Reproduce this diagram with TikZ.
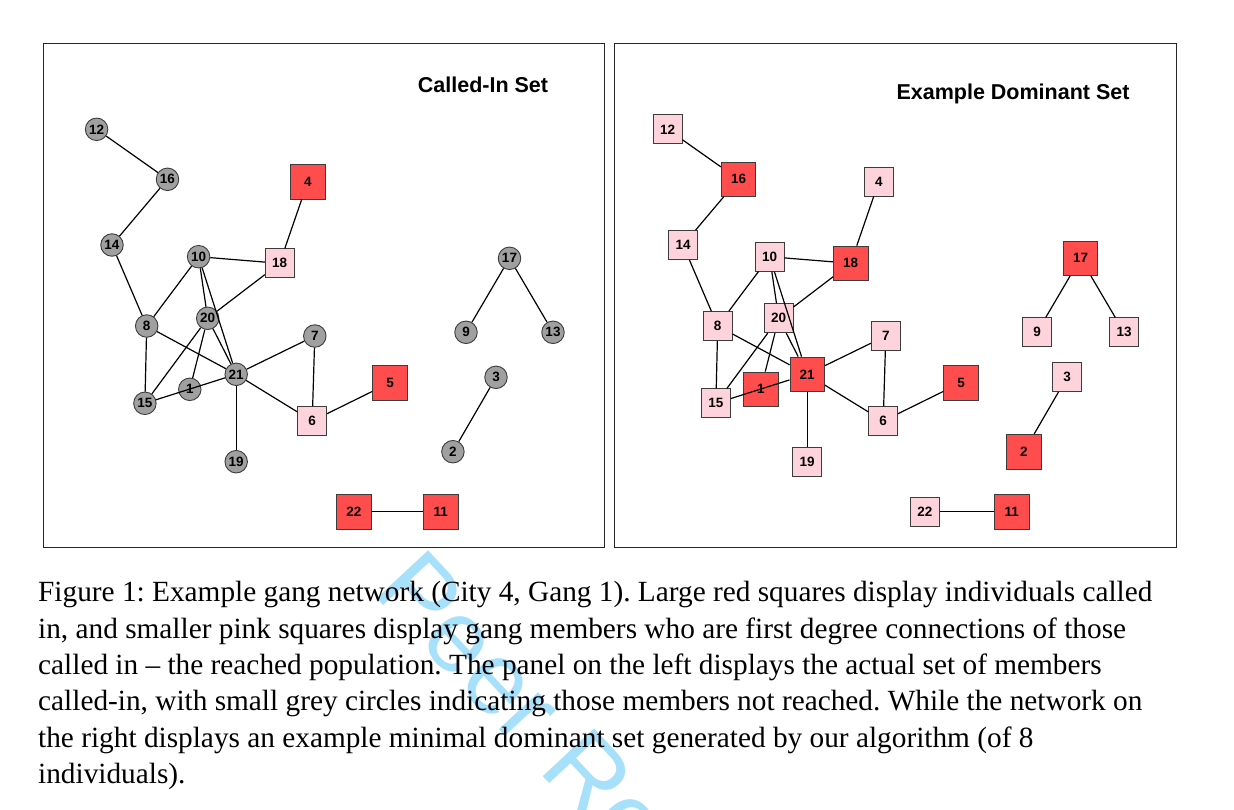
\documentclass[tikz,border=0pt]{standalone}
\usepackage{fontspec}
\setmainfont{Liberation Serif}
\newfontfamily\arialfont{Liberation Sans}
\definecolor{redfill}{HTML}{FF4D4D}
\definecolor{pinkfill}{HTML}{FFD3DC}
\definecolor{greyfill}{HTML}{A0A0A0}
\definecolor{nodeborder}{HTML}{3C3C3C}
\definecolor{wmblue}{HTML}{A6E0FA}
\frenchspacing
\begin{document}
\begin{tikzpicture}[x=1pt,y=-1pt,
  vbase/.style={font=\arialfont\bfseries\fontsize{13.5}{13.5}\selectfont, inner sep=0pt, draw=nodeborder, line width=0.9pt},
  grcirc/.style={vbase, circle, fill=greyfill, minimum size=22.5pt},
  redsq/.style={vbase, rectangle, fill=redfill, minimum size=34.5pt},
  pinksq/.style={vbase, rectangle, fill=pinkfill, minimum size=28.8pt},
  edgeline/.style={line width=1.2pt, black},
  panelbox/.style={draw=black!85, line width=1pt, fill=white},
  ptitle/.style={font=\arialfont\bfseries\fontsize{21.5}{21.5}\selectfont, anchor=base, inner sep=0pt},
  capline/.style={font=\frenchspacing\fontsize{29.3}{36}\selectfont, anchor=base west, inner sep=0pt},
]
\useasboundingbox (0,0) rectangle (1234,809);
\clip (0,0) rectangle (1234,809);
\fill[white] (0,0) rectangle (1234,809);

% watermark
\node[rotate=-47, anchor=base west, text=wmblue, font=\arialfont\fontsize{102}{102}\selectfont, inner sep=0pt] (wm) at (371,592) {Peer Re};

% panels
\draw[panelbox] (43,43) rectangle (604,547);
\draw[panelbox] (614,43) rectangle (1176,547);

% titles
\node[ptitle] (ltitle) at (483,92.5) {Called-In Set};
\node[ptitle] (rtitle) at (1013,99) {Example Dominant Set};

% positions
\foreach \n/\x/\y in {12/96.6/129.3, 16/167.5/179.3, 4/307.8/181.7, 14/112/245, 10/198.6/256.7, 18/279.7/263.3, 17/509.5/258.3, 8/146.7/326, 20/207.7/318.3, 7/314.8/336, 9/466/332.3, 13/553/332.3, 21/236.2/374.3, 1/189.8/389.3, 15/144.9/403.3, 5/390/382.7, 3/496/377.3, 6/312.2/421, 19/236.2/461.7, 2/452.9/451.7, 22/353.8/511.7, 11/440.8/511.7}
  \coordinate (p\n) at (\x,\y);

% left panel nodes
\foreach \n/\s in {12/grcirc, 16/grcirc, 4/redsq, 14/grcirc, 10/grcirc, 18/pinksq, 17/grcirc, 8/grcirc, 20/grcirc, 7/grcirc, 9/grcirc, 13/grcirc, 21/grcirc, 1/grcirc, 15/grcirc, 5/redsq, 3/grcirc, 6/pinksq, 19/grcirc, 2/grcirc, 22/redsq, 11/redsq}
  \node[\s] (L\n) at (p\n) {\n};

% right panel nodes
\foreach \n/\s in {12/pinksq, 16/redsq, 4/pinksq, 14/pinksq, 10/pinksq, 18/redsq, 17/redsq, 8/pinksq, 20/pinksq, 7/pinksq, 9/pinksq, 13/pinksq, 21/redsq, 1/redsq, 15/pinksq, 5/redsq, 3/pinksq, 6/pinksq, 19/pinksq, 2/redsq, 22/pinksq, 11/redsq}
  \node[\s] (R\n) at ([xshift=571pt]p\n) {\n};

% edges
\foreach \a/\b in {12/16, 16/14, 14/8, 8/10, 10/18, 18/4, 10/20, 10/21, 18/20, 8/21, 8/15, 20/15, 20/1, 20/21, 15/21, 21/7, 21/6, 21/19, 7/6, 6/5, 17/9, 17/13, 3/2, 22/11}
  {\draw[edgeline] (L\a) -- (L\b);
   \draw[edgeline] (R\a) -- (R\b);}

% caption
\node[capline] (cap1) at (38,601.7) {Figure 1: Example gang network (City 4, Gang 1). Large red squares display individuals called};
\node[capline] (cap2) at (38,638) {in, and smaller pink squares display gang members who are first degree connections of those};
\node[capline] (cap3) at (38,674.3) {called in – the reached population. The panel on the left displays the actual set of members};
\node[capline] (cap4) at (38,710.6) {called-in, with small grey circles indicating those members not reached. While the network on};
\node[capline] (cap5) at (38,747) {the right displays an example minimal dominant set generated by our algorithm (of 8};
\node[capline] (cap6) at (38,783.3) {individuals).};
\end{tikzpicture}
\end{document}
